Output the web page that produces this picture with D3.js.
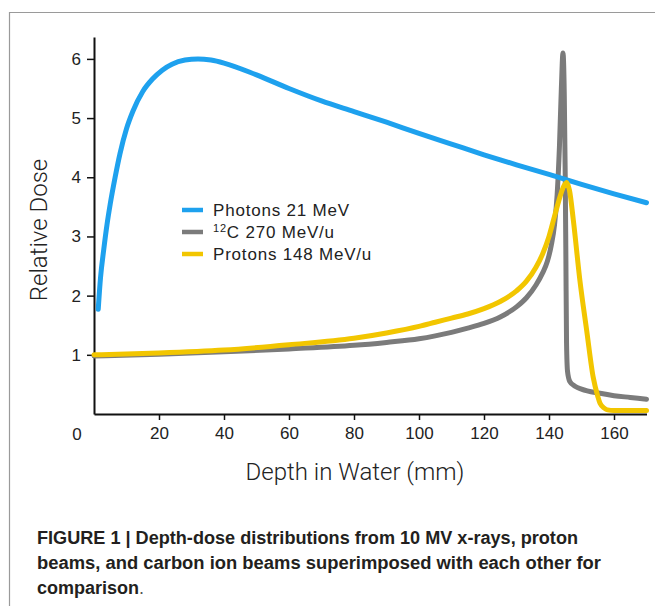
<!DOCTYPE html>
<html><head><meta charset="utf-8">
<script src="https://cdn.jsdelivr.net/npm/d3@7"></script>
<style>
html,body{margin:0;padding:0;background:#fff;}
svg{display:block;}
</style></head>
<body>
<svg id="chart" width="655" height="606"></svg>
<script>
// ---- data ----
const xTicks = [20, 40, 60, 80, 100, 120, 140, 160];
const yTicks = [1, 2, 3, 4, 5, 6];
const seriesNames = ["Photons 21 MeV", "12C 270 MeV/u", "Protons 148 MeV/u"];
const seriesColors = ["#1ea1ee", "#7b7b7b", "#f2c600"];

const photonDepth = [1.3, 2, 3, 4, 5, 6.5, 8, 10, 12, 15, 18, 21, 24, 28, 32, 36, 40, 50, 60, 70, 80, 90, 100, 110, 120, 130, 140, 150, 160, 170];
const photonDose  = [1.77, 2.3, 2.78, 3.2, 3.55, 4.0, 4.4, 4.82, 5.12, 5.45, 5.66, 5.81, 5.91, 5.98, 6.0, 5.98, 5.93, 5.73, 5.5, 5.29, 5.11, 4.93, 4.74, 4.56, 4.38, 4.21, 4.05, 3.88, 3.72, 3.57];

const carbonDepth = [0, 20, 40, 60, 80, 90, 100, 105, 110, 115, 120, 125, 130, 133, 136, 138, 139.5, 140.7, 141.7, 142.5, 143.2, 143.8, 144.3, 144.7, 145.0, 145.2, 145.4, 145.7, 146.4, 148, 150, 155.7, 160, 165, 170];
const carbonDose  = [0.98, 1.01, 1.05, 1.1, 1.16, 1.21, 1.27, 1.32, 1.38, 1.45, 1.53, 1.64, 1.81, 1.96, 2.18, 2.38, 2.58, 2.85, 3.2, 3.7, 4.5, 5.5, 6.1, 5.4, 4.0, 2.6, 1.2, 0.72, 0.55, 0.47, 0.42, 0.35, 0.31, 0.28, 0.25];

const protonDepth = [0, 20, 40, 60, 80, 90, 100, 105, 110, 115, 120, 125, 130, 133, 136, 138, 140, 141.5, 143, 144.3, 145.4, 146.3, 147.5, 149.5, 151.6, 153.6, 155, 155.7, 157, 158, 160, 170];
const protonDose  = [1.0, 1.03, 1.08, 1.17, 1.28, 1.37, 1.48, 1.55, 1.62, 1.69, 1.78, 1.9, 2.08, 2.24, 2.48, 2.7, 3.0, 3.3, 3.6, 3.82, 3.91, 3.78, 3.27, 2.26, 1.41, 0.62, 0.3, 0.18, 0.1, 0.07, 0.06, 0.06];

const captionLines = [
  "FIGURE 1 | Depth-dose distributions from 10 MV x-rays, proton",
  "beams, and carbon ion beams superimposed with each other for",
  "comparison"
];

// ---- chart ----
const svg = d3.select("#chart");
const x = d3.scaleLinear().domain([0, 170]).range([94, 646.5]);
const y = d3.scaleLinear().domain([0, 6.37]).range([414, 37]);

// frame (top + left border)
svg.append("line").attr("x1", 9).attr("x2", 655).attr("y1", 12.5).attr("y2", 12.5)
  .attr("stroke", "#9a9a9a").attr("stroke-width", 1.2);
svg.append("line").attr("x1", 9.5).attr("x2", 9.5).attr("y1", 12).attr("y2", 606)
  .attr("stroke", "#9a9a9a").attr("stroke-width", 1.2);

const tickFont = "'Liberation Sans', Arial, sans-serif";

// x axis
const xAxis = svg.append("g").attr("transform", "translate(0,414)")
  .call(d3.axisBottom(x).tickValues(xTicks).tickSize(6).tickPadding(7).tickSizeOuter(0));
xAxis.select(".domain").attr("stroke", "#111").attr("stroke-width", 2);
xAxis.selectAll(".tick line").attr("stroke", "#111").attr("stroke-width", 1.5);
xAxis.selectAll("text").attr("font-family", tickFont).attr("font-size", 17).attr("fill", "#222");

// "0" label at origin (offset left)
svg.append("text").attr("x", x(0) - 17).attr("y", 440).attr("text-anchor", "middle")
  .attr("font-family", tickFont).attr("font-size", 17).attr("fill", "#222").text("0");

// y axis
const yAxis = svg.append("g").attr("transform", "translate(94,0)")
  .call(d3.axisLeft(y).tickValues(yTicks).tickFormat(d3.format("d")).tickSize(7).tickPadding(6).tickSizeOuter(0));
yAxis.select(".domain").attr("stroke", "#111").attr("stroke-width", 2);
yAxis.selectAll(".tick line").attr("stroke", "#111").attr("stroke-width", 1.5);
yAxis.selectAll("text").attr("font-family", tickFont).attr("font-size", 17).attr("fill", "#222");

// axis titles
svg.append("text").attr("x", 355).attr("y", 480).attr("text-anchor", "middle")
  .attr("font-family", "Roboto, 'Liberation Sans', sans-serif").attr("font-weight", 300)
  .attr("font-size", 24).attr("fill", "#222").text("Depth in Water (mm)");
svg.append("text").attr("transform", "translate(47,230) rotate(-90)").attr("text-anchor", "middle")
  .attr("font-family", "Roboto, 'Liberation Sans', sans-serif").attr("font-weight", 300)
  .attr("font-size", 24).attr("fill", "#222").text("Relative Dose");

// lines
const line = d3.line().x(d => x(d[0])).y(d => y(d[1])).curve(d3.curveMonotoneX);
const carbon = d3.zip(carbonDepth, carbonDose);
const photon = d3.zip(photonDepth, photonDose);
const proton = d3.zip(protonDepth, protonDose);
const order = [[carbon, seriesColors[1]], [photon, seriesColors[0]], [proton, seriesColors[2]]];
order.forEach(([data, c]) => {
  svg.append("path").datum(data).attr("d", line).attr("fill", "none")
    .attr("stroke", c).attr("stroke-width", 5).attr("stroke-linecap", "round").attr("stroke-linejoin", "round");
});

// legend
const legendY = [210, 232, 254];
seriesNames.forEach((name, i) => {
  svg.append("line").attr("x1", 182).attr("x2", 203).attr("y1", legendY[i]).attr("y2", legendY[i])
    .attr("stroke", seriesColors[i]).attr("stroke-width", 4.5);
  const t = svg.append("text").attr("x", 213).attr("y", legendY[i] + 6)
    .attr("font-family", tickFont).attr("font-size", 17).attr("letter-spacing", 0.8).attr("fill", "#222");
  if (name.startsWith("12C")) {
    t.append("tspan").attr("font-size", 11).attr("dy", -6).text("12");
    t.append("tspan").attr("dy", 6).text(name.slice(2));
  } else {
    t.text(name);
  }
});

// caption
const capFont = "'Liberation Sans Narrow', 'Arial Narrow', 'Liberation Sans', Arial, sans-serif";
const capBase = [544, 569, 594];
const capWidths = [541, 564, null];
captionLines.forEach((s, i) => {
  const t = svg.append("text").attr("x", 37).attr("y", capBase[i])
    .attr("font-family", capFont).attr("font-weight", "bold").attr("font-size", 18)
    .attr("fill", "#231f20");
  if (capWidths[i]) {
    t.attr("textLength", capWidths[i]).attr("lengthAdjust", "spacingAndGlyphs").text(s);
  } else {
    t.append("tspan").text(s);
    t.append("tspan").attr("font-weight", "normal").attr("fill", "#555").text(".");
  }
});
</script>
</body></html>
